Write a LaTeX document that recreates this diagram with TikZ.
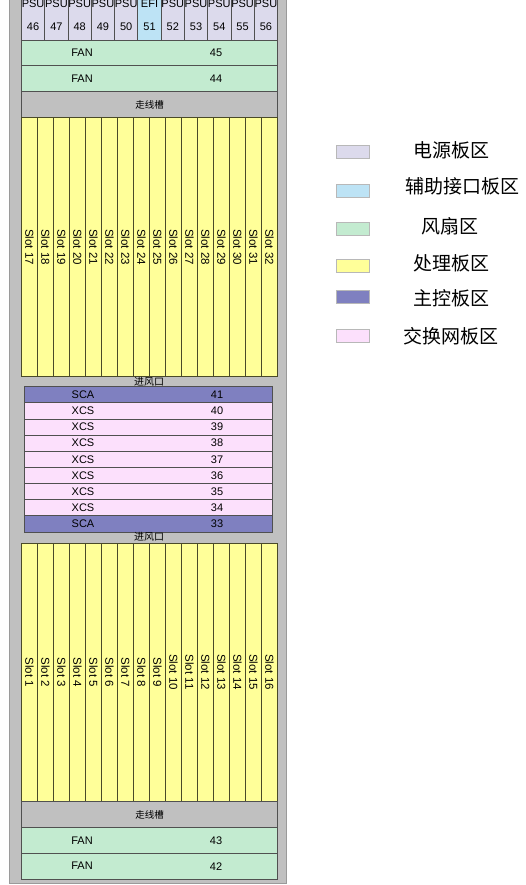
\documentclass[tikz,border=0pt]{standalone}
\usepackage{fontspec}
\setmainfont{Liberation Sans}
\newfontfamily\cjk{Noto Sans CJK SC}
\usetikzlibrary{positioning}
\definecolor{framegray}{HTML}{C0C0C0}
\definecolor{edgegray}{HTML}{9A9A9A}
\definecolor{linegray}{HTML}{505050}
\definecolor{slotline}{HTML}{4A4A28}
\definecolor{psucol}{HTML}{DCDAEC}
\definecolor{eficol}{HTML}{BDE3F5}
\definecolor{fancol}{HTML}{C3EBD0}
\definecolor{slotcol}{HTML}{FFFF99}
\definecolor{scacol}{HTML}{7F80C0}
\definecolor{xcscol}{HTML}{FCE0FC}

\begin{document}
\begin{tikzpicture}[x=1pt,y=-1pt,font=\fontsize{11}{13}\selectfont,
  psu/.style={draw=linegray,line width=0.8pt,fill=psucol,inner sep=0pt,minimum width=23.27pt,minimum height=49pt,align=center,font=\fontsize{11}{23}\selectfont},
  fan/.style={draw=linegray,line width=0.8pt,fill=fancol,inner sep=0pt,minimum width=256pt,minimum height=25.8pt},
  duct/.style={draw=linegray,line width=0.8pt,fill=framegray,inner sep=0pt,minimum width=256pt,minimum height=25.8pt,font=\cjk\fontsize{9.5}{11}\selectfont},
  slot/.style={draw=slotline,line width=0.8pt,fill=slotcol,inner sep=0pt,minimum width=16pt,minimum height=258.5pt,font=\fontsize{11.5}{13}\selectfont},
  row/.style={draw=linegray,line width=0.8pt,inner sep=0pt,minimum width=248pt,minimum height=16.15pt},
  air/.style={inner sep=0pt,font=\cjk\fontsize{10}{11}\selectfont},
  key/.style={draw=edgegray!70,line width=0.6pt,minimum width=33pt,minimum height=13pt,inner sep=0pt},
  keytext/.style={inner sep=0pt,font=\cjk\fontsize{19}{22}\selectfont}]
\useasboundingbox (0,0) rectangle (526,885);
\clip (0,0) rectangle (526,885);
\fill[white] (0,0) rectangle (526,885);
\draw[fill=framegray,draw=edgegray,line width=1pt] (9.5,-20) rectangle (286,883);

% power / EFI boards
\node[psu] (p46) at (33.1,15.5) {PSU\\46};
\node[psu] (p47) at (56.4,15.5) {PSU\\47};
\node[psu] (p48) at (79.7,15.5) {PSU\\48};
\node[psu] (p49) at (102.9,15.5) {PSU\\49};
\node[psu] (p50) at (126.2,15.5) {PSU\\50};
\node[psu,fill=eficol] (e51) at (149.5,15.5) {EFI\\51};
\node[psu] (p52) at (172.8,15.5) {PSU\\52};
\node[psu] (p53) at (196.0,15.5) {PSU\\53};
\node[psu] (p54) at (219.3,15.5) {PSU\\54};
\node[psu] (p55) at (242.6,15.5) {PSU\\55};
\node[psu] (p56) at (265.9,15.5) {PSU\\56};

% upper fans
\node[fan,label={[xshift=-67.5pt]center:FAN},label={[xshift=66.5pt]center:45}] (f45) at (149.5,52.9) {};
\node[fan,label={[xshift=-67.5pt]center:FAN},label={[xshift=66.5pt]center:44}] (f44) at (149.5,78.7) {};
\node[duct] (d1) at (149.5,104.5) {走线槽};

% upper slots
\node[slot] (s17) at (29.5,247) {\rotatebox{-90}{Slot 17}};
\node[slot] (s18) at (45.5,247) {\rotatebox{-90}{Slot 18}};
\node[slot] (s19) at (61.5,247) {\rotatebox{-90}{Slot 19}};
\node[slot] (s20) at (77.5,247) {\rotatebox{-90}{Slot 20}};
\node[slot] (s21) at (93.5,247) {\rotatebox{-90}{Slot 21}};
\node[slot] (s22) at (109.5,247) {\rotatebox{-90}{Slot 22}};
\node[slot] (s23) at (125.5,247) {\rotatebox{-90}{Slot 23}};
\node[slot] (s24) at (141.5,247) {\rotatebox{-90}{Slot 24}};
\node[slot] (s25) at (157.5,247) {\rotatebox{-90}{Slot 25}};
\node[slot] (s26) at (173.5,247) {\rotatebox{-90}{Slot 26}};
\node[slot] (s27) at (189.5,247) {\rotatebox{-90}{Slot 27}};
\node[slot] (s28) at (205.5,247) {\rotatebox{-90}{Slot 28}};
\node[slot] (s29) at (221.5,247) {\rotatebox{-90}{Slot 29}};
\node[slot] (s30) at (237.5,247) {\rotatebox{-90}{Slot 30}};
\node[slot] (s31) at (253.5,247) {\rotatebox{-90}{Slot 31}};
\node[slot] (s32) at (269.5,247) {\rotatebox{-90}{Slot 32}};

\node[air] (air1) at (149,381.5) {进风口};

% switch and control boards
\node[row,fill=scacol,label={[xshift=-65pt]center:SCA},label={[xshift=69pt]center:41}] (r41) at (148,394.8) {};
\node[row,fill=xcscol,label={[xshift=-65pt]center:XCS},label={[xshift=69pt]center:40}] (r40) at (148,410.9) {};
\node[row,fill=xcscol,label={[xshift=-65pt]center:XCS},label={[xshift=69pt]center:39}] (r39) at (148,427.1) {};
\node[row,fill=xcscol,label={[xshift=-65pt]center:XCS},label={[xshift=69pt]center:38}] (r38) at (148,443.2) {};
\node[row,fill=xcscol,label={[xshift=-65pt]center:XCS},label={[xshift=69pt]center:37}] (r37) at (148,459.4) {};
\node[row,fill=xcscol,label={[xshift=-65pt]center:XCS},label={[xshift=69pt]center:36}] (r36) at (148,475.5) {};
\node[row,fill=xcscol,label={[xshift=-65pt]center:XCS},label={[xshift=69pt]center:35}] (r35) at (148,491.6) {};
\node[row,fill=xcscol,label={[xshift=-65pt]center:XCS},label={[xshift=69pt]center:34}] (r34) at (148,507.8) {};
\node[row,fill=scacol,label={[xshift=-65pt]center:SCA},label={[xshift=69pt]center:33}] (r33) at (148,523.9) {};

\node[air] (air2) at (149,537) {进风口};

% lower slots
\node[slot] (s1) at (29.5,672.2) {\rotatebox{-90}{Slot 1}};
\node[slot] (s2) at (45.5,672.2) {\rotatebox{-90}{Slot 2}};
\node[slot] (s3) at (61.5,672.2) {\rotatebox{-90}{Slot 3}};
\node[slot] (s4) at (77.5,672.2) {\rotatebox{-90}{Slot 4}};
\node[slot] (s5) at (93.5,672.2) {\rotatebox{-90}{Slot 5}};
\node[slot] (s6) at (109.5,672.2) {\rotatebox{-90}{Slot 6}};
\node[slot] (s7) at (125.5,672.2) {\rotatebox{-90}{Slot 7}};
\node[slot] (s8) at (141.5,672.2) {\rotatebox{-90}{Slot 8}};
\node[slot] (s9) at (157.5,672.2) {\rotatebox{-90}{Slot 9}};
\node[slot] (s10) at (173.5,672.2) {\rotatebox{-90}{Slot 10}};
\node[slot] (s11) at (189.5,672.2) {\rotatebox{-90}{Slot 11}};
\node[slot] (s12) at (205.5,672.2) {\rotatebox{-90}{Slot 12}};
\node[slot] (s13) at (221.5,672.2) {\rotatebox{-90}{Slot 13}};
\node[slot] (s14) at (237.5,672.2) {\rotatebox{-90}{Slot 14}};
\node[slot] (s15) at (253.5,672.2) {\rotatebox{-90}{Slot 15}};
\node[slot] (s16) at (269.5,672.2) {\rotatebox{-90}{Slot 16}};

% lower fans
\node[duct] (d2) at (149.5,814.6) {走线槽};
\node[fan,label={[xshift=-67.5pt]center:FAN},label={[xshift=66.5pt]center:43}] (f43) at (149.5,840.4) {};
\node[fan,label={[xshift=-67.5pt]center:FAN},label={[xshift=66.5pt]center:42}] (f42) at (149.5,866.2) {};

% legend
\node[key,fill=psucol] (k1) at (352.5,152) {};
\node[key,fill=eficol] (k2) at (352.5,190.7) {};
\node[key,fill=fancol] (k3) at (352.5,229) {};
\node[key,fill=slotcol] (k4) at (352.5,265.7) {};
\node[key,fill=scacol] (k5) at (352.5,297) {};
\node[key,fill=xcscol] (k6) at (352.5,336) {};
\node[keytext] (t1) at (451,150) {电源板区};
\node[keytext] (t2) at (462,186.7) {辅助接口板区};
\node[keytext] (t3) at (450,226.7) {风扇区};
\node[keytext] (t4) at (451,263.3) {处理板区};
\node[keytext] (t5) at (451,298.3) {主控板区};
\node[keytext] (t6) at (451,336.7) {交换网板区};
\end{tikzpicture}
\end{document}
